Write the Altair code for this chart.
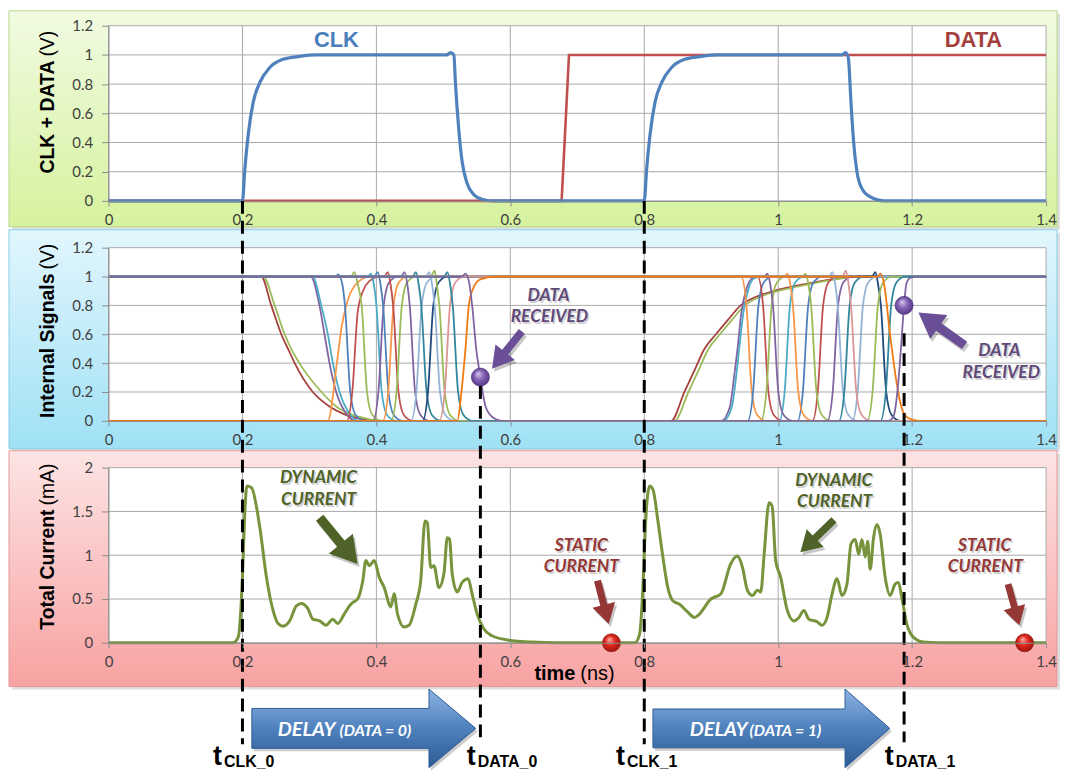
import altair as alt
import pandas as pd

FONT = "Lato"
TFONT = "Liberation Sans"
GRID = "#a9a9a9"
AXC = "#8c8c8c"
LBL = "#3f3f3f"
W = 942
H1, H2, H3 = 176, 174, 176

# ---------------- axis ticks ----------------
X_TICKS = [0, 0.2, 0.4, 0.6, 0.8, 1.0, 1.2, 1.4]
V_TICKS = [0, 0.2, 0.4, 0.6, 0.8, 1.0, 1.2]
I_TICKS = [0, 0.5, 1.0, 1.5, 2.0]

# ---------------- panel 1 : CLK + DATA ----------------
CLK_T = [0, 0.2, 0.2036, 0.2085, 0.216, 0.2259, 0.2408, 0.2606, 0.2853, 0.31,
         0.505, 0.5108, 0.5157, 0.518, 0.523, 0.528, 0.5355, 0.5454, 0.5578, 0.5727,
         0.8, 0.8036, 0.8085, 0.816, 0.8259, 0.8408, 0.8606, 0.8853, 0.91,
         1.095, 1.1003, 1.1035, 1.105, 1.1087, 1.1127, 1.1176, 1.125, 1.1374, 1.1573, 1.4]
CLK_V = [0, 0, 0.22, 0.45, 0.675, 0.81, 0.914, 0.97, 0.99, 1.0,
         1.0, 1.016, 1.0, 0.81, 0.49, 0.27, 0.12, 0.043, 0.011, 0,
         0, 0.22, 0.45, 0.675, 0.81, 0.914, 0.97, 0.99, 1.0,
         1.0, 1.016, 1.0, 0.97, 0.675, 0.40, 0.2, 0.084, 0.027, 0, 0]
DATA_T = [0, 0.6766, 0.6876, 1.4]
DATA_V = [0, 0, 1, 1]

# ---------------- panel 2 : internal signals ----------------
n01 = [(0, 1), (0.228, 1), (0.243, 0.8), (0.258, 0.6), (0.27, 0.48), (0.278, 0.4), (0.305, 0.2), (0.33, 0.1),
       (0.35, 0.05), (0.375, 0.015), (0.40, 0), (0.84, 0), (0.86, 0.2), (0.875, 0.35), (0.89, 0.5), (0.907, 0.6),
       (0.925, 0.7), (0.944, 0.8), (0.967, 0.86), (0.994, 0.9), (1.043, 0.95), (1.08, 0.98), (1.118, 1), (1.4, 1)]
n02 = [(0, 1), (0.231, 1), (0.248, 0.8), (0.263, 0.6), (0.275, 0.48), (0.285, 0.4), (0.318, 0.2), (0.34, 0.1),
       (0.36, 0.05), (0.385, 0.015), (0.41, 0), (0.845, 0), (0.866, 0.2), (0.881, 0.35), (0.896, 0.5), (0.913, 0.6),
       (0.931, 0.7), (0.95, 0.8), (0.973, 0.86), (1.0, 0.9), (1.05, 0.95), (1.085, 0.98), (1.12, 1), (1.4, 1)]
n03 = [(0, 1), (0.302, 1), (0.315, 0.8), (0.3225, 0.6), (0.33, 0.4), (0.34, 0.2), (0.355, 0.05), (0.37, 0),
       (0.915, 0), (0.928, 0.1), (0.934, 0.3), (0.9393, 0.5), (0.945, 0.75), (0.953, 0.92), (0.962, 0.99), (0.975, 1), (1.4, 1)]
n04 = [(0, 1), (0.305, 1), (0.3176, 0.8), (0.3275, 0.6), (0.335, 0.4), (0.345, 0.2), (0.36, 0.05), (0.375, 0),
       (0.918, 0), (0.931, 0.1), (0.937, 0.3), (0.9418, 0.5), (0.948, 0.75), (0.956, 0.92), (0.965, 0.99), (0.978, 1), (1.4, 1)]
n05 = [(0, 0), (0.3275, 0), (0.341, 0.4), (0.348, 0.65), (0.355, 0.8), (0.37, 0.95), (0.39, 1),
       (0.9446, 1), (0.9526, 0.8), (0.9606, 0.2), (0.9686, 0.04), (0.9816, 0), (1.4, 0)]
n06 = [(0, 1), (0.339, 1), (0.343, 1.015), (0.349, 0.95), (0.353, 0.8), (0.361, 0.2), (0.369, 0.04), (0.382, 0),
       (0.9545, 0), (0.9625, 0.2), (0.9705, 0.8), (0.9785, 0.96), (0.9915, 1), (1.4, 1)]
n07 = [(0, 0), (0.356, 0), (0.364, 0.2), (0.372, 0.75), (0.38, 0.9), (0.39, 0.97), (0.405, 1),
       (0.9694, 1), (0.9774, 0.8), (0.9854, 0.2), (0.9934, 0.04), (1.0064, 0), (1.4, 0)]
n08 = [(0, 1), (0.362, 1), (0.367, 1.03), (0.372, 0.95), (0.378, 0.8), (0.386, 0.2), (0.394, 0.04), (0.407, 0),
       (0.9743, 0), (0.9823, 0.2), (0.9903, 0.8), (0.9983, 0.96), (1.0113, 1), (1.4, 1)]
n09 = [(0, 1), (0.387, 1), (0.392, 1.02), (0.396, 0.95), (0.4, 0.8), (0.408, 0.2), (0.416, 0.04), (0.429, 0),
       (1.0016, 0), (1.0096, 0.2), (1.0176, 0.8), (1.0256, 0.96), (1.0386, 1), (1.4, 1)]
n10 = [(0, 0), (0.395, 0), (0.403, 0.2), (0.411, 0.8), (0.419, 0.96), (0.432, 1),
       (0.979, 1), (0.984, 1.02), (0.988, 0.95), (0.9922, 0.8), (1.0002, 0.2), (1.0082, 0.04), (1.0212, 0), (1.4, 0)]
n11 = [(0, 1), (0.397, 1), (0.402, 1.03), (0.406, 0.95), (0.41, 0.8), (0.418, 0.2), (0.426, 0.04), (0.439, 0),
       (1.0288, 0), (1.0368, 0.2), (1.0448, 0.8), (1.0528, 0.96), (1.0658, 1), (1.4, 1)]
n12 = [(0, 0), (0.4096, 0), (0.4176, 0.2), (0.4256, 0.8), (0.4336, 0.96), (0.4466, 1),
       (1.009, 1), (1.014, 1.02), (1.018, 0.95), (1.022, 0.8), (1.03, 0.2), (1.038, 0.04), (1.051, 0), (1.4, 0)]
n13 = [(0, 1), (0.412, 1), (0.417, 1.03), (0.421, 0.95), (0.425, 0.8), (0.433, 0.2), (0.441, 0.04), (0.454, 0),
       (1.0511, 0), (1.0591, 0.2), (1.0671, 0.8), (1.0751, 0.96), (1.0881, 1), (1.4, 1)]
n14 = [(0, 0), (0.422, 0), (0.43, 0.2), (0.438, 0.8), (0.446, 0.96), (0.459, 1),
       (1.036, 1), (1.041, 1.02), (1.045, 0.95), (1.0492, 0.8), (1.0572, 0.2), (1.0652, 0.04), (1.0782, 0), (1.4, 0)]
n15 = [(0, 1), (0.437, 1), (0.442, 1.03), (0.446, 0.95), (0.4498, 0.8), (0.4578, 0.2), (0.4658, 0.04), (0.4788, 0),
       (1.0734, 0), (1.0814, 0.2), (1.0894, 0.8), (1.0974, 0.96), (1.1104, 1), (1.4, 1)]
n16 = [(0, 0), (0.4517, 0), (0.4597, 0.2), (0.4677, 0.8), (0.4757, 0.96), (0.4887, 1),
       (1.076, 1), (1.081, 1.03), (1.085, 0.95), (1.0888, 0.8), (1.0968, 0.2), (1.1048, 0.04), (1.1178, 0), (1.4, 0)]
n17 = [(0, 1), (0.454, 1), (0.459, 1.03), (0.463, 0.95), (0.467, 0.8), (0.475, 0.2), (0.483, 0.04), (0.496, 0),
       (1.0907, 0), (1.0987, 0.2), (1.1067, 0.8), (1.1147, 0.96), (1.1277, 1), (1.4, 1)]
n18 = [(0, 0), (0.469, 0), (0.477, 0.2), (0.485, 0.8), (0.493, 0.96), (0.506, 1),
       (1.14, 1), (1.145, 1.03), (1.149, 0.95), (1.1533, 0.8), (1.1613, 0.2), (1.1693, 0.04), (1.1823, 0), (1.4, 0)]
n19 = [(0, 1), (0.474, 1), (0.479, 1.03), (0.483, 0.95), (0.487, 0.8), (0.495, 0.2), (0.503, 0.04), (0.516, 0),
       (1.1106, 0), (1.1186, 0.2), (1.1266, 0.8), (1.1346, 0.96), (1.1476, 1), (1.4, 1)]
n20 = [(0, 1), (0.481, 1), (0.487, 1.04), (0.49, 0.95), (0.494, 0.8), (0.502, 0.2), (0.51, 0.04), (0.523, 0),
       (1.1329, 0), (1.1409, 0.2), (1.1489, 0.8), (1.1569, 0.96), (1.1699, 1), (1.4, 1)]
n21 = [(0, 0), (0.494, 0), (0.502, 0.2), (0.51, 0.8), (0.518, 0.96), (0.531, 1),
       (1.096, 1), (1.101, 1.04), (1.105, 0.95), (1.1087, 0.8), (1.1167, 0.2), (1.1247, 0.04), (1.1377, 0), (1.4, 0)]
n22 = [(0, 1), (0.501, 1), (0.506, 1.03), (0.51, 0.95), (0.514, 0.8), (0.522, 0.2), (0.53, 0.04), (0.543, 0),
       (1.1527, 0), (1.1607, 0.2), (1.1687, 0.8), (1.1767, 0.96), (1.1897, 1), (1.4, 1)]
n23 = [(0, 0), (0.5207, 0), (0.527, 0.2), (0.533, 0.5), (0.538, 0.8), (0.543, 0.9), (0.555, 0.98), (0.578, 1),
       (1.148, 1), (1.153, 1.02), (1.158, 0.95), (1.167, 0.6), (1.177, 0.26), (1.185, 0.08), (1.194, 0.02), (1.21, 0), (1.4, 0)]
n24 = [(0, 1), (0.528, 1), (0.533, 1.02), (0.538, 0.97), (0.543, 0.8), (0.549, 0.5), (0.5553, 0.303), (0.563, 0.1),
       (0.575, 0.02), (0.5875, 0), (1.165, 0), (1.172, 0.03), (1.1786, 0.23), (1.182, 0.42), (1.188, 0.8),
       (1.1914, 0.95), (1.197, 0.99), (1.2075, 1), (1.4, 1)]
SIGNALS = [n01, n02, n03, n04, n05, n06, n07, n08, n09, n10, n11, n12,
           n13, n14, n15, n16, n17, n18, n19, n20, n21, n22, n23, n24]
SIG_COLORS = ["#a5403d", "#9bbb59", "#8064a2", "#4bacc6", "#f79646", "#4f81bd",
              "#c0504d", "#9bbb59", "#4bacc6", "#8064a2", "#4f81bd", "#f79646",
              "#c0504d", "#9bbb59", "#8064a2", "#95b3d7", "#31859c", "#1f497d",
              "#95b3d7", "#9bbb59", "#d99694", "#31859c", "#f27a12", "#8064a2"]
# received-data points
RX_T = [0.5553, 1.188]
RX_V = [0.303, 0.8]

# ---------------- panel 3 : total current ----------------
CUR_T = [0, 0.186, 0.1937, 0.2, 0.2036, 0.2066, 0.2135, 0.2259, 0.2358, 0.2457,
         0.2531, 0.2606, 0.2705, 0.2804, 0.2879, 0.2977, 0.3051, 0.3151, 0.325, 0.3349,
         0.3423, 0.3522, 0.3597, 0.3646, 0.372, 0.3795, 0.3844, 0.3894, 0.3968, 0.4042,
         0.4117, 0.4216, 0.4265, 0.4315, 0.4414, 0.4488, 0.4588, 0.4662, 0.4726, 0.4761,
         0.4811, 0.486, 0.4934, 0.5009, 0.5058, 0.5093, 0.5132, 0.5207, 0.5281, 0.537,
         0.5429, 0.5504, 0.5603, 0.5727, 0.5975, 0.632, 0.67, 0.786, 0.793, 0.798,
         0.8016, 0.808, 0.813, 0.8204, 0.8278, 0.8352, 0.8427, 0.8526, 0.865, 0.8749,
         0.8798, 0.8996, 0.9145, 0.929, 0.939, 0.9467, 0.954, 0.9616, 0.969, 0.974,
         0.979, 0.9864, 0.991, 0.9962, 1.0036, 1.0136, 1.0235, 1.031, 1.0384, 1.0458,
         1.0582, 1.0656, 1.073, 1.0805, 1.0879, 1.0953, 1.1027, 1.1087, 1.1151, 1.1201,
         1.125, 1.13, 1.1335, 1.1374, 1.1424, 1.1473, 1.1523, 1.1597, 1.1671, 1.1746,
         1.1795, 1.1845, 1.1919, 1.2018, 1.2167, 1.24, 1.4]
CUR_I = [0, 0, 0.065, 0.75, 1.5, 1.79, 1.77, 1.32, 0.75, 0.37,
         0.22, 0.19, 0.25, 0.42, 0.45, 0.39, 0.27, 0.25, 0.2, 0.27,
         0.22, 0.33, 0.42, 0.46, 0.5, 0.7, 0.94, 0.88, 0.94, 0.75,
         0.63, 0.41, 0.56, 0.33, 0.18, 0.2, 0.44, 0.71, 1.39, 1.37,
         0.86, 0.88, 0.63, 0.79, 1.2, 1.18, 0.79, 0.58, 0.69, 0.73,
         0.56, 0.33, 0.16, 0.08, 0.03, 0.008, 0, 0, 0.1, 0.63,
         1.32, 1.79, 1.75, 1.39, 0.98, 0.63, 0.48, 0.44, 0.35, 0.29,
         0.31, 0.5, 0.56, 0.9, 0.99, 0.86, 0.6, 0.54, 0.6, 0.58,
         1.01, 1.6, 1.56, 0.94, 0.75, 0.37, 0.25, 0.29, 0.37, 0.27,
         0.24, 0.2, 0.29, 0.56, 0.73, 0.54, 0.67, 1.13, 1.18, 1.01,
         1.18, 0.98, 1.16, 0.84, 1.2, 1.35, 1.24, 0.75, 0.54, 0.67,
         0.69, 0.52, 0.22, 0.065, 0.008, 0, 0]
STATIC_T = [0.751, 1.368]
STATIC_I = [0, 0]

# event times (dashed markers)
T_CLK = [0.2, 0.8]
T_DATA = [0.5553, 1.188]

# ---------------- helpers ----------------
XS = alt.Scale(domain=[0, 1.4], nice=False, zero=False)
X_AXIS = alt.Axis(values=X_TICKS, format="~g", grid=False, title=None, domainColor=AXC,
                  tickColor=AXC, tickSize=5, labelFont=FONT, labelFontSize=15, labelColor=LBL,
                  labelPadding=7, labelFlush=False, labelOverlap=False, zindex=1)


def xenc():
    return alt.X("t:Q", scale=XS, axis=X_AXIS)


def yenc(dom, ticks):
    return alt.Y("v:Q", scale=alt.Scale(domain=dom, nice=False, zero=False),
                 axis=alt.Axis(values=ticks, format="~g", grid=False, title=None, domainColor=AXC,
                               tickColor=AXC, tickSize=7, labelFont=FONT, labelFontSize=15,
                               labelColor=LBL, labelPadding=9, labelOverlap=False, zindex=1))


ONE = pd.DataFrame({"k": [0]})


def frame(h, top, bottom, c0, c1, border):
    grad = alt.Gradient(gradient="linear",
                        stops=[alt.GradientStop(color=c0, offset=0), alt.GradientStop(color=c1, offset=1)],
                        x1=0, x2=0, y1=0, y2=1)
    shadow = alt.Chart(ONE).mark_rect(fill="#000000", opacity=0.13).encode(
        x=alt.value(-97), x2=alt.value(956), y=alt.value(top + 3), y2=alt.value(bottom + 3))
    bg = alt.Chart(ONE).mark_rect(fill=grad, stroke=border, strokeWidth=1).encode(
        x=alt.value(-100), x2=alt.value(953), y=alt.value(top), y2=alt.value(bottom))
    white = alt.Chart(ONE).mark_rect(fill="white").encode(
        x=alt.value(0), x2=alt.value(W), y=alt.value(0), y2=alt.value(h))
    return [shadow, bg, white]


def grids(h, dom, ticks):
    vg = alt.Chart(pd.DataFrame({"t": X_TICKS})).mark_rule(color=GRID, strokeWidth=1).encode(
        x=xenc(), y=alt.value(0), y2=alt.value(h))
    hg = alt.Chart(pd.DataFrame({"v": ticks})).mark_rule(color=GRID, strokeWidth=1).encode(
        y=yenc(dom, ticks), x=alt.value(0), x2=alt.value(W))
    return [vg, hg]


def ytitle(bold, normal, anchor):
    a = alt.Chart(ONE).mark_text(text=bold, angle=270, align="right", baseline="middle", font=TFONT,
                                 fontSize=19.5, fontWeight="bold", color="#000000").encode(
        x=alt.value(-61), y=alt.value(anchor + 2))
    b = alt.Chart(ONE).mark_text(text=normal, angle=270, align="left", baseline="middle", font=TFONT,
                                 fontSize=19.5, color="#000000").encode(
        x=alt.value(-61), y=alt.value(anchor - 2))
    return [a, b]


ARROW_PATH = "M -1 -0.16 L 0.12 -0.16 L 0.12 -0.52 L 1 0 L 0.12 0.52 L 0.12 0.16 L -1 0.16 Z"


def arrow(t, v, ang, length, color, dom, ticks):
    d = pd.DataFrame({"t": [t], "v": [v]})
    sh = alt.Chart(d).mark_point(shape=ARROW_PATH, filled=True, fill="#000000", opacity=0.22,
                                 size=length ** 2, angle=ang, xOffset=2, yOffset=3, strokeWidth=0).encode(
        x=xenc(), y=yenc(dom, ticks))
    ar = alt.Chart(d).mark_point(shape=ARROW_PATH, filled=True, fill=color, opacity=1,
                                 size=length ** 2, angle=ang, strokeWidth=0).encode(
        x=xenc(), y=yenc(dom, ticks))
    return [sh, ar]


def notes(ts, vs, labels, color, dom, ticks, size=17.5):
    d = pd.DataFrame({"t": ts, "v": vs, "label": labels})
    sh = alt.Chart(d).mark_text(font=FONT, fontSize=size, fontWeight="bold", fontStyle="italic",
                                color="#000000", opacity=0.18, align="center", baseline="middle",
                                dx=1.5, dy=2).encode(
        x=xenc(), y=yenc(dom, ticks), text="label:N")
    tx = alt.Chart(d).mark_text(font=FONT, fontSize=size, fontWeight="bold", fontStyle="italic",
                                color=color, align="center", baseline="middle").encode(
        x=xenc(), y=yenc(dom, ticks), text="label:N")
    return [sh, tx]


# ---------------- panel 1 ----------------
D1 = [0, 1.2]
df_clk = pd.DataFrame({"t": CLK_T, "v": CLK_V})
df_dat = pd.DataFrame({"t": DATA_T, "v": DATA_V})
p1_layers = frame(H1, -15, 202, "#f1fbe2", "#d6f29e", "#b7d98c") + grids(H1, D1, V_TICKS) + [
    alt.Chart(df_dat).mark_line(color="#c0504d", strokeWidth=2.6).encode(x=xenc(), y=yenc(D1, V_TICKS)),
    alt.Chart(df_clk).mark_line(color="#4f81bd", strokeWidth=3.2, interpolate="monotone").encode(
        x=xenc(), y=yenc(D1, V_TICKS)),
    alt.Chart(pd.DataFrame({"t": [0.3403], "v": [1.105], "label": ["CLK"]})).mark_text(
        font=TFONT, fontSize=22, fontWeight="bold", color="#4a7ebb", baseline="middle").encode(
        x=xenc(), y=yenc(D1, V_TICKS), text="label:N"),
    alt.Chart(pd.DataFrame({"t": [1.2915], "v": [1.105], "label": ["DATA"]})).mark_text(
        font=TFONT, fontSize=22, fontWeight="bold", color="#a33f3c", baseline="middle").encode(
        x=xenc(), y=yenc(D1, V_TICKS), text="label:N"),
] + ytitle("CLK + DATA", "(V)", 33)
p1 = alt.layer(*p1_layers).properties(width=W, height=H1)

# ---------------- panel 2 ----------------
D2 = [0, 1.2]
rows = []
names = []
for k, sig in enumerate(SIGNALS):
    name = "s%02d" % (k + 1)
    names.append(name)
    for (t, v) in sig:
        rows.append({"t": t, "v": v, "s": name})
df_sig = pd.DataFrame(rows)
purple_ball = alt.Gradient(gradient="radial",
                           stops=[alt.GradientStop(color="#d9c9f0", offset=0),
                                  alt.GradientStop(color="#8463b5", offset=0.45),
                                  alt.GradientStop(color="#4a2c7a", offset=1)],
                           x1=0.38, y1=0.3, r1=0, x2=0.5, y2=0.5, r2=0.6)
p2_layers = frame(H2, -18, 202, "#e2f6fd", "#a0e1f5", "#86cfe6") + grids(H2, D2, V_TICKS) + [
    alt.Chart(df_sig).mark_line(strokeWidth=1.8, interpolate="monotone").encode(
        x=xenc(), y=yenc(D2, V_TICKS),
        color=alt.Color("s:N", scale=alt.Scale(domain=names, range=SIG_COLORS), legend=None)),
    alt.Chart(pd.DataFrame({"t": RX_T, "v": RX_V})).mark_circle(size=330, fill=purple_ball, opacity=1,
                                                                 stroke="#4a2c7a", strokeWidth=0.6).encode(
        x=xenc(), y=yenc(D2, V_TICKS)),
] + arrow(0.5949, 0.491, 128.5, 48, "#6b4f96", D2, V_TICKS) + arrow(1.2439, 0.637, 215.5, 57, "#6b4f96", D2, V_TICKS) \
  + notes([0.6569, 0.6584], [0.867, 0.717], ["DATA", "RECEIVED"], "#5f497a", D2, V_TICKS) \
  + notes([1.3302, 1.3331], [0.483, 0.331], ["DATA", "RECEIVED"], "#5f497a", D2, V_TICKS) \
  + ytitle("Internal Signals", "(V)", 24)
p2 = alt.layer(*p2_layers).properties(width=W, height=H2)

# ---------------- panel 3 ----------------
D3 = [0, 2]
df_cur = pd.DataFrame({"t": CUR_T, "v": CUR_I})
red_ball = alt.Gradient(gradient="radial",
                        stops=[alt.GradientStop(color="#ffb3a8", offset=0),
                               alt.GradientStop(color="#e0281e", offset=0.45),
                               alt.GradientStop(color="#8a0f0a", offset=1)],
                        x1=0.38, y1=0.3, r1=0, x2=0.5, y2=0.5, r2=0.6)
BIG0 = "M -1 -0.178 L 0.582 -0.178 L 0.582 -0.351 L 1 0 L 0.582 0.351 L 0.582 0.178 L -1 0.178 Z"
BIG1 = "M -1 -0.164 L 0.622 -0.164 L 0.622 -0.332 L 1 0 L 0.622 0.332 L 0.622 0.164 L -1 0.164 Z"
blue_grad = alt.Gradient(gradient="linear",
                         stops=[alt.GradientStop(color="#8db4e3", offset=0),
                                alt.GradientStop(color="#4f81bd", offset=0.5),
                                alt.GradientStop(color="#2c5a94", offset=1)],
                         x1=0, x2=0, y1=0, y2=1)


def dashed(t, top, bottom):
    return alt.Chart(pd.DataFrame({"t": [t]})).mark_rule(color="#000000", strokeWidth=3,
                                                        strokeDash=[13, 7]).encode(
        x=xenc(), y=alt.value(top), y2=alt.value(bottom))


def ptext(txt, x, y, size, weight="bold", style="normal", color="#000000", font=TFONT, align="left"):
    return alt.Chart(ONE).mark_text(text=txt, font=font, fontSize=size, fontWeight=weight, fontStyle=style,
                                    color=color, align=align, baseline="alphabetic").encode(
        x=alt.value(x), y=alt.value(y))


def big_arrow(path, cx, cy, width):
    sh = alt.Chart(ONE).mark_point(shape=path, filled=True, fill="#000000", opacity=0.2, size=width ** 2,
                                   strokeWidth=0, xOffset=2, yOffset=3).encode(x=alt.value(cx), y=alt.value(cy))
    ar = alt.Chart(ONE).mark_point(shape=path, filled=True, fill=blue_grad, opacity=1, size=width ** 2,
                                   stroke="#2f5d96", strokeWidth=1).encode(x=alt.value(cx), y=alt.value(cy))
    return [sh, ar]


p3_layers = frame(H3, -17, 220, "#fde4e4", "#f8a2a2", "#e39a9a") + grids(H3, D3, I_TICKS) + [
    alt.Chart(df_cur).mark_line(color="#77933c", strokeWidth=3, interpolate="monotone").encode(
        x=xenc(), y=yenc(D3, I_TICKS)),
    alt.Chart(pd.DataFrame({"t": STATIC_T, "v": STATIC_I})).mark_circle(size=330, fill=red_ball, opacity=1,
                                                                         stroke="#8a0f0a", strokeWidth=0.6).encode(
        x=xenc(), y=yenc(D3, I_TICKS)),
] + arrow(0.3436, 1.164, 50.6, 60, "#4f6228", D3, I_TICKS) + arrow(1.0582, 1.218, 136, 47, "#4f6228", D3, I_TICKS) \
  + arrow(0.7386, 0.463, 75.3, 45, "#953735", D3, I_TICKS) + arrow(1.3517, 0.435, 74.5, 43, "#953735", D3, I_TICKS) \
  + notes([0.3136, 0.3136], [1.878, 1.628], ["DYNAMIC", "CURRENT"], "#4f6228", D3, I_TICKS) \
  + notes([1.083, 1.0842], [1.847, 1.605], ["DYNAMIC", "CURRENT"], "#4f6228", D3, I_TICKS) \
  + notes([0.706, 0.706], [1.108, 0.865], ["STATIC", "CURRENT"], "#953735", D3, I_TICKS) \
  + notes([1.3083, 1.3093], [1.108, 0.865], ["STATIC", "CURRENT"], "#953735", D3, I_TICKS) \
  + ytitle("Total Current", "(mA)", 40) + [
    ptext("time", 469, 213, 20, align="right"),
    ptext("(ns)", 474, 213, 20, weight="normal"),
    dashed(T_CLK[0], -268, 278),
    dashed(T_CLK[1], -268, 278),
    dashed(T_DATA[0], -82, 271),
    dashed(T_DATA[1], -135, 276),
] + big_arrow(BIG0, 256.5, 262, 225) + big_arrow(BIG1, 666, 262, 238) + [
    ptext("DELAY", 170, 270, 20, style="italic", color="#ffffff", font=FONT),
    ptext("(DATA = 0)", 232, 270, 16, style="italic", color="#ffffff", font=FONT),
    ptext("DELAY", 584, 270, 20, style="italic", color="#ffffff", font=FONT),
    ptext("(DATA = 1)", 644, 270, 16, style="italic", color="#ffffff", font=FONT),
    ptext("t", 105, 299, 27),
    ptext("CLK_0", 116, 301, 16),
    ptext("t", 360, 299, 27),
    ptext("DATA_0", 371, 301, 16),
    ptext("t", 510, 299, 27),
    ptext("CLK_1", 521, 301, 16),
    ptext("t", 780, 299, 27),
    ptext("DATA_1", 791, 301, 16),
]
p3 = alt.layer(*p3_layers).properties(width=W, height=H3)

chart = alt.vconcat(p1, p2, p3, spacing=47, bounds="flush", padding=0).configure_view(strokeWidth=0)
chart.save("out.html", embed_options={"renderer": "svg", "actions": False})
